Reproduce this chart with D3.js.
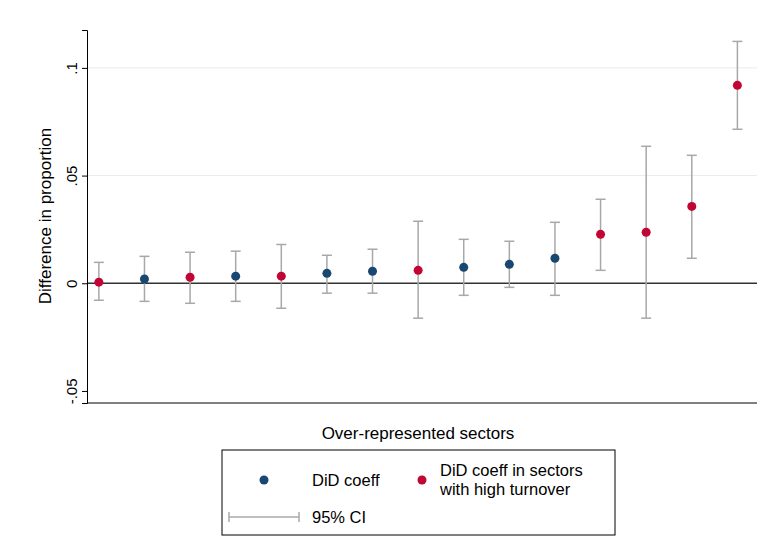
<!DOCTYPE html><html><head><meta charset="utf-8"><script src="https://cdn.jsdelivr.net/npm/d3@7"></script>
<style>body{margin:0;background:#fff}text{font-family:Arial,"Liberation Sans",sans-serif}</style></head><body>
<script>
const idx=[1,2,3,4,5,6,7,8,9,10,11,12,13,14,15];
const coef=[0.0005,0.002,0.0028,0.0033,0.0033,0.0046,0.0056,0.006,0.0074,0.0088,0.0116,0.0227,0.0237,0.0357,0.0919];
const lo=[-0.0079,-0.0084,-0.0093,-0.0084,-0.0116,-0.0046,-0.0046,-0.0162,-0.0056,-0.0019,-0.0056,0.006,-0.0162,0.0116,0.0715];
const hi=[0.0097,0.0125,0.0144,0.0149,0.018,0.013,0.0158,0.0288,0.0204,0.0195,0.0283,0.039,0.0636,0.0594,0.1123];
const turnover=[1,0,1,0,1,0,0,1,0,0,0,1,1,1,1];
const yTicks=[-0.05,0,0.05,0.1];
const yLabels=["-.05","0",".05",".1"];
const W=757,H=556;
const svg=d3.select("body").append("svg").attr("width",W).attr("height",H);
const x=d3.scaleLinear().domain([0.74,15.43]).range([87,757]);
const y=d3.scaleLinear().domain([-0.0556,0.1176]).range([403,30]);
svg.selectAll(".g").data(yTicks.filter(d=>d>0)).join("line").attr("x1",87).attr("x2",757).attr("y1",d=>y(d)).attr("y2",d=>y(d)).attr("stroke","#eaeaea");
svg.append("line").attr("x1",87).attr("x2",757).attr("y1",y(0)).attr("y2",y(0)).attr("stroke","#333").attr("stroke-width",1.5);
const ax=svg.append("g").attr("transform","translate(87,0)").call(d3.axisLeft(y).tickValues(yTicks).tickFormat((d,i)=>yLabels[i]).tickSize(5));
ax.select(".domain").attr("stroke","#000");
ax.selectAll("text").attr("font-size",15).attr("transform","rotate(-90)").attr("text-anchor","middle").attr("x",0).attr("dy",0).attr("y",-10);
svg.append("line").attr("x1",87).attr("x2",757).attr("y1",403).attr("y2",403).attr("stroke","#000");
const g=svg.append("g");
idx.forEach((d,i)=>{
 const cx=x(d);
 g.append("line").attr("x1",cx).attr("x2",cx).attr("y1",y(lo[i])).attr("y2",y(hi[i])).attr("stroke","#a8a8a8").attr("stroke-width",1.5);
 [lo[i],hi[i]].forEach(v=>g.append("line").attr("x1",cx-5).attr("x2",cx+5).attr("y1",y(v)).attr("y2",y(v)).attr("stroke","#a8a8a8").attr("stroke-width",1.5));
 g.append("circle").attr("cx",cx).attr("cy",y(coef[i])).attr("r",4.5).attr("fill",turnover[i]?"#c10534":"#1a476f");
});
svg.append("text").attr("transform","translate(51,216) rotate(-90)").attr("text-anchor","middle").attr("font-size",17).text("Difference in proportion");
svg.append("text").attr("x",418).attr("y",439).attr("text-anchor","middle").attr("font-size",17).text("Over-represented sectors");
const L=svg.append("g");
L.append("rect").attr("x",222).attr("y",450).attr("width",393).attr("height",85).attr("fill","#fff").attr("stroke","#000");
L.append("circle").attr("cx",264).attr("cy",480).attr("r",4.5).attr("fill","#1a476f");
L.append("text").attr("x",312).attr("y",486).attr("font-size",16.5).text("DiD coeff");
L.append("circle").attr("cx",422).attr("cy",480).attr("r",4.5).attr("fill","#c10534");
L.append("text").attr("x",440).attr("y",476).attr("font-size",16.5).text("DiD coeff in sectors");
L.append("text").attr("x",440).attr("y",495).attr("font-size",16.5).text("with high turnover");
L.append("line").attr("x1",229).attr("x2",299).attr("y1",517).attr("y2",517).attr("stroke","#a8a8a8").attr("stroke-width",1.5);
[229,299].forEach(v=>L.append("line").attr("x1",v).attr("x2",v).attr("y1",512).attr("y2",522).attr("stroke","#a8a8a8").attr("stroke-width",1.5));
L.append("text").attr("x",312).attr("y",523).attr("font-size",16.5).text("95% CI");
</script></body></html>
